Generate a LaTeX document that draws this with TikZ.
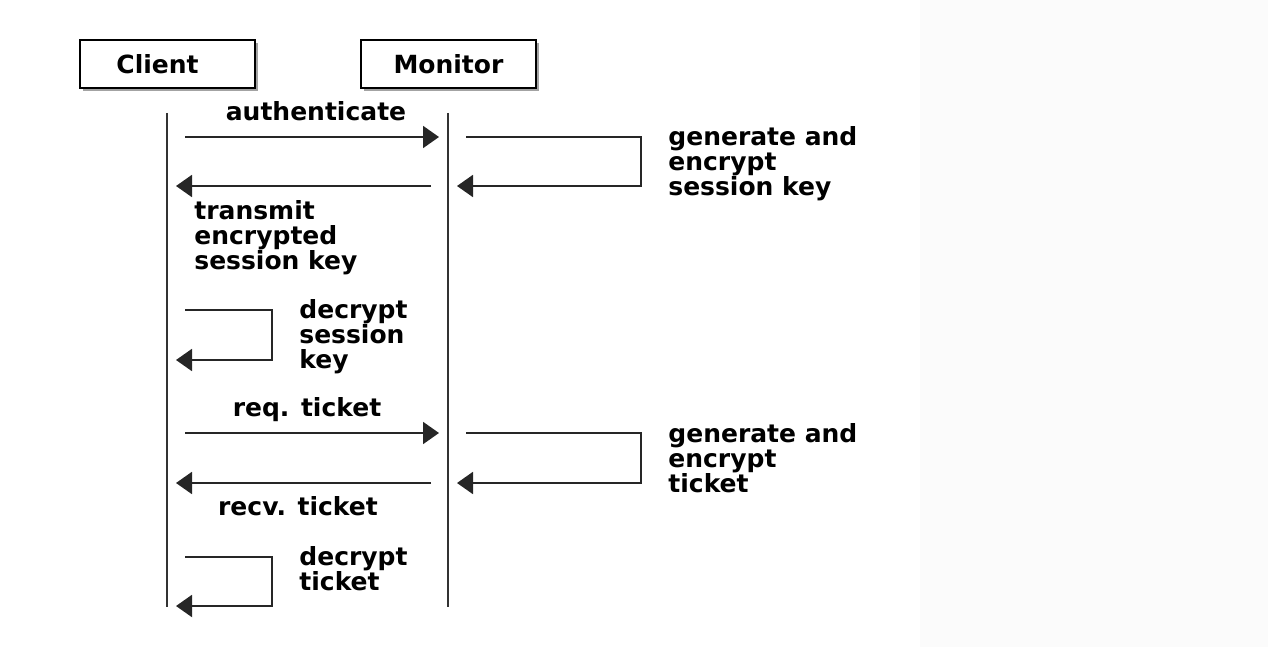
\documentclass[tikz,border=0pt]{standalone}
\usepackage{fontspec}
\setmainfont{DejaVu Sans}
\usetikzlibrary{arrows.meta, positioning, shadows}
\tikzstyle{actor}=[draw,line width=1pt,fill=white,minimum width=87.5pt,minimum height=24pt,
  font=\fontsize{12.5}{12.5}\selectfont\bfseries,drop shadow={shadow xshift=1.5pt,shadow yshift=-1.5pt,opacity=.6,fill=black!60}]
\tikzstyle{life}=[line width=1pt,black!80]
\tikzstyle{msg}=[line width=1pt,black!85,-{Triangle[length=8pt,width=11pt]}]
\tikzstyle{lbl}=[inner sep=0pt,align=left,font=\fontsize{12.5}{12.5}\selectfont\bfseries]
\tikzstyle{sheet}=[x=0.5pt,y=-0.5pt]

\begin{document}
\begin{tikzpicture}[sheet]
\useasboundingbox (0,0) rectangle (1268,647);
\fill[black!1.5] (920,0) rectangle (1268,647);
% actors
\node[actor] (client) at (167.5,64) {Client\hspace*{10pt}};
\node[actor] (monitor) at (448.5,64) {Monitor};
\foreach \n/\x in {c/167, m/448}
  {\coordinate (\n top) at (\x,113); \coordinate (\n bot) at (\x,607);
   \draw[life] (\n top) -- (\n bot);}
% authenticate
\coordinate (a1) at (185,137); \coordinate (a2) at (439,137);
\draw[msg] (a1) -- (a2);
\node[lbl,anchor=base] (auth) at (316,120) {authenticate};
% monitor: generate session key
\coordinate (g1) at (466,137); \coordinate (g2) at (641,137);
\coordinate (g3) at (641,186); \coordinate (g4) at (457,186);
\draw[msg] (g1) -- (g2) -- (g3) -- (g4);
\node[lbl,anchor=north west] (gen1) at (668,126) {generate and\\encrypt\\session key};
% transmit
\coordinate (t1) at (431,186); \coordinate (t2) at (176,186);
\draw[msg] (t1) -- (t2);
\node[lbl,anchor=north west] (trans) at (194,200) {transmit\\encrypted\\session key};
% client: decrypt session key
\coordinate (d1) at (185,310); \coordinate (d2) at (272,310);
\coordinate (d3) at (272,360); \coordinate (d4) at (176,360);
\draw[msg] (d1) -- (d2) -- (d3) -- (d4);
\node[lbl,anchor=north west] (dec1) at (299,299) {decrypt\\session\\key};
% req. ticket
\coordinate (r1) at (185,433); \coordinate (r2) at (439,433);
\draw[msg] (r1) -- (r2);
\node[lbl,anchor=base] (req) at (307,416) {req. ticket};
% monitor: generate ticket
\coordinate (k1) at (466,433); \coordinate (k2) at (641,433);
\coordinate (k3) at (641,483); \coordinate (k4) at (457,483);
\draw[msg] (k1) -- (k2) -- (k3) -- (k4);
\node[lbl,anchor=north west] (gen2) at (668,423) {generate and\\encrypt\\ticket};
% recv. ticket
\coordinate (v1) at (431,483); \coordinate (v2) at (176,483);
\draw[msg] (v1) -- (v2);
\node[lbl,anchor=base] (recv) at (298,515) {recv. ticket};
% client: decrypt ticket
\coordinate (e1) at (185,557); \coordinate (e2) at (272,557);
\coordinate (e3) at (272,606); \coordinate (e4) at (176,606);
\draw[msg] (e1) -- (e2) -- (e3) -- (e4);
\node[lbl,anchor=north west] (dec2) at (299,546) {decrypt\\ticket};
\end{tikzpicture}
\end{document}
